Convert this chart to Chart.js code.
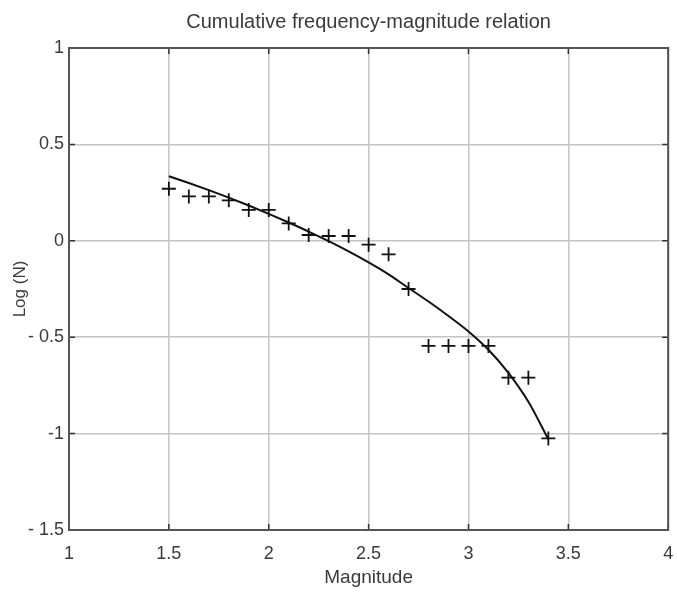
<!DOCTYPE html>
<html>
<head>
<meta charset="utf-8">
<script src="https://cdn.jsdelivr.net/npm/chart.js@4/dist/chart.umd.min.js"></script>
<style>
	html, body { margin: 0; padding: 0; background: #fff; }
	#wrap { width: 677px; height: 601px; }
</style>
</head>
<body>
<div id="wrap"><canvas id="gr"></canvas></div>
<script>
// observed events: magnitude vs log of cumulative count
var magnitudes = [1.5, 1.6, 1.7, 1.8, 1.9, 2.0, 2.1, 2.2, 2.3, 2.4, 2.5, 2.6, 2.7, 2.8, 2.9, 3.0, 3.1, 3.2, 3.3, 3.4];
var logN = [0.27, 0.23, 0.23, 0.21, 0.16, 0.16, 0.09, 0.03, 0.025, 0.025, -0.02, -0.07, -0.25, -0.545, -0.545, -0.545, -0.545, -0.71, -0.71, -1.025];
// fitted curve
var fitLogN = [0.335, 0.300, 0.263, 0.224, 0.183, 0.140, 0.095, 0.048, -0.002, -0.055, -0.112, -0.174, -0.245, -0.315, -0.39, -0.47, -0.565, -0.685, -0.835, -1.03];

var xTickLabels = ['1', '1.5', '2', '2.5', '3', '3.5', '4'];
var yTickLabels = ['- 1.5', '-1', '- 0.5', '0', '0.5', '1'];

function toPoints(xs, ys) {
	return xs.map(function (x, i) { return { x: x, y: ys[i] }; });
}

// matlab style box with inward tick marks
var boxPlugin = {
	id: 'box',
	afterDraw: function (chart) {
		var ctx = chart.ctx, a = chart.chartArea;
		var xs = chart.scales.x, ys = chart.scales.y;
		ctx.save();
		ctx.strokeStyle = '#333';
		ctx.lineWidth = 1.5;
		ctx.beginPath();
		xs.ticks.forEach(function (t) {
			var px = xs.getPixelForValue(t.value);
			ctx.moveTo(px, a.top); ctx.lineTo(px, a.top + 6);
			ctx.moveTo(px, a.bottom); ctx.lineTo(px, a.bottom - 6);
		});
		ys.ticks.forEach(function (t) {
			var py = ys.getPixelForValue(t.value);
			ctx.moveTo(a.left, py); ctx.lineTo(a.left + 6, py);
			ctx.moveTo(a.right, py); ctx.lineTo(a.right - 6, py);
		});
		ctx.stroke();
		ctx.strokeStyle = '#555';
		ctx.lineWidth = 2;
		ctx.strokeRect(a.left, a.top, a.right - a.left, a.bottom - a.top);
		ctx.restore();
	}
};

var ctx = document.getElementById('gr').getContext('2d');
var chart = new Chart(ctx, {
	type: 'scatter',
	data: {
		datasets: [{
			label: 'fit',
			type: 'line',
			data: toPoints(magnitudes, fitLogN),
			borderColor: '#111',
			borderWidth: 2,
			pointRadius: 0,
			cubicInterpolationMode: 'monotone',
			fill: false
		}, {
			label: 'observed',
			data: toPoints(magnitudes, logN),
			pointStyle: 'cross',
			pointRadius: 7,
			pointBorderWidth: 1.8,
			borderColor: '#111',
			backgroundColor: '#111'
		}]
	},
	options: {
		responsive: true,
		maintainAspectRatio: false,
		animation: false,
		layout: { padding: { top: 0, right: 5, bottom: 0, left: 0 } },
		plugins: {
			legend: { display: false },
			tooltip: { enabled: false },
			title: {
				display: true,
				fullSize: false,
				text: 'Cumulative frequency-magnitude relation',
				color: '#3a3a3a',
				font: { family: 'Liberation Sans', size: 20, weight: 'normal' },
				padding: { top: 10, bottom: 14 }
			}
		},
		scales: {
			x: {
				type: 'linear',
				min: 1,
				max: 4,
				border: { display: false },
				grid: { color: '#c4c4c4', lineWidth: 1.5, drawTicks: false },
				ticks: {
					stepSize: 0.5,
					padding: 13,
					color: '#3a3a3a',
					font: { family: 'Liberation Sans', size: 18 },
					maxRotation: 0,
					callback: function (v, i) { return xTickLabels[i]; }
				},
				title: {
					display: true,
					text: 'Magnitude',
					color: '#3a3a3a',
					font: { family: 'Liberation Sans', size: 19 },
					padding: { top: 0, bottom: 12 }
				},
				afterFit: function (s) {
					s.height = 71;
					s.paddingLeft = 0;
					s.paddingRight = 0;
				}
			},
			y: {
				type: 'linear',
				min: -1.5,
				max: 1,
				border: { display: false },
				grid: { color: '#c4c4c4', lineWidth: 1.5, drawTicks: false },
				ticks: {
					stepSize: 0.5,
					padding: 5,
					color: '#3a3a3a',
					font: { family: 'Liberation Sans', size: 18 },
					callback: function (v, i) { return yTickLabels[i]; }
				},
				title: {
					display: true,
					text: 'Log (N)',
					color: '#3a3a3a',
					font: { family: 'Liberation Sans', size: 17 },
					padding: { top: 10, bottom: 0 }
				},
				afterFit: function (s) {
					s.width = 69;
					s.paddingTop = 0;
					s.paddingBottom = 0;
				}
			}
		}
	},
	plugins: [boxPlugin]
});
</script>
</body>
</html>
